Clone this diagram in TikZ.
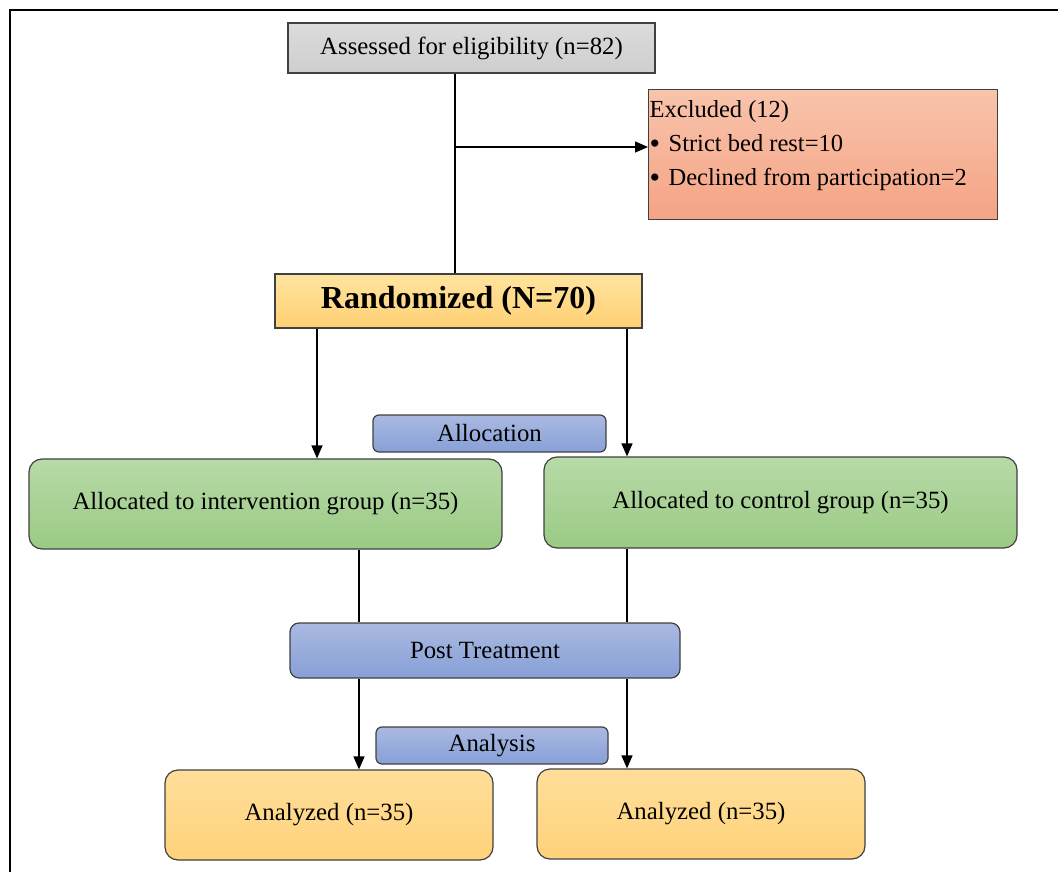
\documentclass[tikz,border=0pt]{standalone}
\usepackage{fontspec}
\setmainfont{Liberation Serif}
\usepackage{tikz}
\usetikzlibrary{arrows.meta}

\definecolor{boxline}{HTML}{404040}
\newcommand{\bulletmark}{\makebox[19pt][l]{\raisebox{-1.5pt}{\fontsize{30}{34}\selectfont\textbullet}}}
\tikzset{
  box/.style={draw=boxline, line width=1.2pt, inner sep=0pt, font=\fontsize{24.8}{28}\selectfont},
  greybox/.style={box, top color=gray!28, bottom color=gray!38},
  excbox/.style={box, top color={rgb,255:red,248;green,196;blue,172}, bottom color={rgb,255:red,245;green,163;blue,132}},
  randbox/.style={box, top color={rgb,255:red,255;green,228;blue,158}, bottom color={rgb,255:red,255;green,208;blue,116}},
  phasebox/.style={box, rounded corners=6pt, top color={rgb,255:red,170;green,185;blue,225}, bottom color={rgb,255:red,135;green,160;blue,215}},
  groupbox/.style={box, rounded corners=13pt, top color={rgb,255:red,184;green,218;blue,168}, bottom color={rgb,255:red,154;green,202;blue,132}},
  resultbox/.style={box, rounded corners=13pt, top color={rgb,255:red,255;green,222;blue,154}, bottom color={rgb,255:red,255;green,210;blue,122}},
  arr/.style={-{Triangle[length=13pt,width=11pt]}},
}

\begin{document}
\begin{tikzpicture}[x=1pt, y=-1pt, line width=1.3pt]
  \useasboundingbox (0,0) rectangle (1058,872);
  \draw[line width=1.5pt] (10,872) -- (10,10) -- (1058,10);

  \node[greybox, minimum width=367, minimum height=50] (assess) at (471.5,48)
    {Assessed for eligibility (n=82)};
  \node[excbox, anchor=north west, minimum width=349, minimum height=130] (exc) at (648,89) {};
  \node[anchor=north west, inner sep=0pt, align=left, font=\fontsize{24.5}{34}\selectfont] (exctext) at (649,100)
    {Excluded (12)\\
     \bulletmark Strict bed rest=10\\
     \bulletmark Declined from participation=2};
  \node[randbox, minimum width=367, minimum height=54, font=\fontsize{32}{36}\selectfont\bfseries] (rand) at (458.5,301)
    {Randomized (N=70)};

  \node[phasebox, minimum width=233, minimum height=37] (alloc) at (489.5,433.5) {Allocation};
  \node[groupbox, minimum width=473, minimum height=90] (intv) at (265.5,504)
    {Allocated to intervention group (n=35)};
  \node[groupbox, minimum width=473, minimum height=91] (ctrl) at (780.5,502.5)
    {Allocated to control group (n=35)};

  \node[phasebox, rounded corners=9pt, minimum width=390, minimum height=55] (post) at (485,650.5) {Post Treatment};
  \node[phasebox, minimum width=232, minimum height=37] (anal) at (492,745.5) {Analysis};
  \node[resultbox, minimum width=328, minimum height=90] (resA) at (329,815) {Analyzed (n=35)};
  \node[resultbox, minimum width=328, minimum height=90] (resB) at (701,814) {Analyzed (n=35)};

  \coordinate (split) at (455,147);
  \coordinate (colA) at (317,0);
  \coordinate (colB) at (627,0);
  \coordinate (colC) at (359,0);

  \draw (assess.south -| split) -- (rand.north -| split);
  \draw[arr] (split) -- (exc.west |- split);

  \draw[arr] (rand.south -| colA) -- (intv.north -| colA);
  \draw[arr] (rand.south -| colB) -- (ctrl.north -| colB);
  \draw (intv.south -| colC) -- (post.north -| colC);
  \draw (ctrl.south -| colB) -- (post.north -| colB);
  \draw[arr] (post.south -| colC) -- (resA.north -| colC);
  \draw[arr] (post.south -| colB) -- (resB.north -| colB);
\end{tikzpicture}
\end{document}
